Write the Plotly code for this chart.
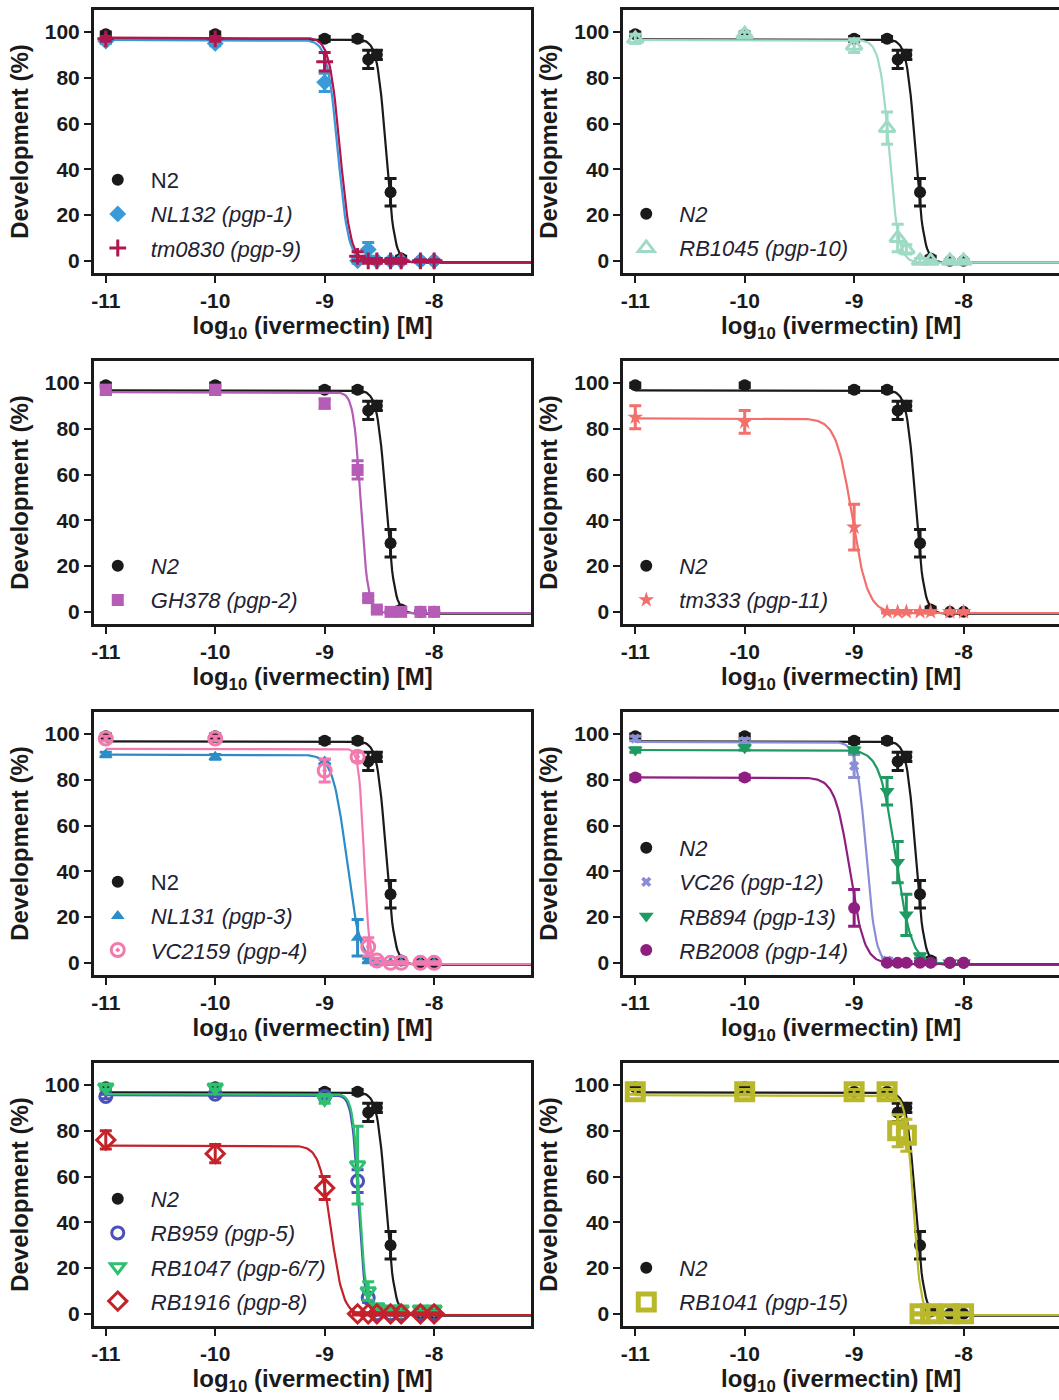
import numpy as np
import plotly.graph_objects as go

# ---------------- data ----------------
conc_molar = [1e-11, 1e-10, 1e-9, 2e-9, 2.5e-9, 3e-9, 4e-9, 5e-9, 7.5e-9, 1e-8]
log_conc = [float(np.log10(c)) for c in conc_molar]

x_tick_vals = [-11, -10, -9, -8]
x_tick_text = ["-11", "-10", "-9", "-8"]
y_tick_vals = [0, 20, 40, 60, 80, 100]

# mean development (%) and error (SEM) at each concentration
n2_mean = [99, 99, 97, 97, 88, 90, 30, 1, 0, 0]
n2_err = [1, 1, 1, 1, 4, 2, 6, 1, 0.5, 0.5]
nl132_mean = [96, 95, 78, 0, 5, 0, 0, 0, 0, 0]
nl132_err = [1, 1, 4, 1, 3, 0.5, 0.5, 0.5, 0.5, 0.5]
tm0830_mean = [97, 97, 87, 2, 0, 0, 0, 0, 0, 0]
tm0830_err = [1, 1, 4, 2, 1, 1, 1, 1, 0.5, 0.5]
rb1045_mean = [97, 99, 94, 58, 10, 5, 0, 0, 0, 0]
rb1045_err = [2, 1, 3, 7, 6, 2, 1, 0.5, 0.5, 0.5]
gh378_mean = [97, 97, 91, 62, 6, 1, 0, 0, 0, 0]
gh378_err = [2, 2, 2, 4, 1, 1, 0.5, 0.5, 0.5, 0.5]
tm333_mean = [85, 83, 37, 0, 0, 0, 0, 0, 0, 0]
tm333_err = [5, 5, 10, 0.5, 0.5, 0.5, 0.5, 0.5, 0.5, 0.5]
nl131_mean = [91, 90, 88, 11, 1, 0, 0, 0, 0, 0]
nl131_err = [1, 1, 1, 8, 1, 0.5, 0.5, 0.5, 0.5, 0.5]
vc2159_mean = [98, 98, 84, 90, 7, 1, 0, 0, 0, 0]
vc2159_err = [1, 1, 5, 2, 4, 1, 0.5, 0.5, 0.5, 0.5]
vc26_mean = [98, 97, 86, 1, 0, 0, 0, 0, 0, 0]
vc26_err = [1, 1, 5, 1, 0.5, 0.5, 0.5, 0.5, 0.5, 0.5]
rb894_mean = [93, 94, 93, 75, 44, 21, 3, 0, 0, 0]
rb894_err = [1, 1, 1, 6, 9, 9, 1, 0.5, 0.5, 0.5]
rb2008_mean = [81, 81, 24, 0, 0, 0, 0, 0, 0, 0]
rb2008_err = [1, 1, 8, 0.5, 0.5, 0.5, 0.5, 0.5, 0.5, 0.5]
rb959_mean = [95, 96, 95, 58, 7, 0, 0, 0, 0, 0]
rb959_err = [1, 1, 1, 5, 2, 0.5, 0.5, 0.5, 0.5, 0.5]
rb1047_mean = [99, 99, 94, 65, 10, 3, 2, 2, 2, 2]
rb1047_err = [1, 1, 2, 17, 4, 1, 1, 1, 1, 1]
rb1916_mean = [76, 70, 55, 0, 0, 0, 0, 0, 0, 0]
rb1916_err = [4, 4, 5, 0.5, 0.5, 0.5, 0.5, 0.5, 0.5, 0.5]
rb1041_mean = [97, 97, 97, 97, 80, 78, 0, 0, 0, 0]
rb1041_err = [1, 1, 1, 1, 7, 7, 0.5, 0.5, 0.5, 0.5]

# fitted dose-response parameters: [top, bottom, logEC50, hill slope]
n2_fit = [96.8, -0.8, -8.44, 11]
nl132_fit = [96.5, -0.5, -8.88, 9]
tm0830_fit = [97.5, -0.5, -8.86, 9]
rb1045_fit = [96.5, -0.8, -8.68, 10]
gh378_fit = [96.0, -0.5, -8.67, 13]
tm333_fit = [84.5, -0.5, -9.02, 6]
nl131_fit = [91.0, -0.5, -8.80, 7]
vc2159_fit = [93.5, -0.5, -8.64, 18]
vc26_fit = [96.5, -0.5, -8.89, 10]
rb894_fit = [93.0, -0.5, -8.62, 6]
rb2008_fit = [81.0, -0.5, -9.04, 6.5]
rb959_fit = [95.5, -0.5, -8.69, 14]
rb1047_fit = [96.0, -0.5, -8.68, 14]
rb1916_fit = [73.5, -0.5, -8.94, 8]
rb1041_fit = [95.5, -0.5, -8.46, 13]

strain_labels = {
    "n2": "N2",
    "nl132": "NL132 (pgp-1)", "tm0830": "tm0830 (pgp-9)", "rb1045": "RB1045 (pgp-10)",
    "gh378": "GH378 (pgp-2)", "tm333": "tm333 (pgp-11)", "nl131": "NL131 (pgp-3)",
    "vc2159": "VC2159 (pgp-4)", "vc26": "VC26 (pgp-12)", "rb894": "RB894 (pgp-13)",
    "rb2008": "RB2008 (pgp-14)", "rb959": "RB959 (pgp-5)", "rb1047": "RB1047 (pgp-6/7)",
    "rb1916": "RB1916 (pgp-8)", "rb1041": "RB1041 (pgp-15)",
}
strain_data = {
    "n2": (n2_mean, n2_err, n2_fit),
    "nl132": (nl132_mean, nl132_err, nl132_fit),
    "tm0830": (tm0830_mean, tm0830_err, tm0830_fit),
    "rb1045": (rb1045_mean, rb1045_err, rb1045_fit),
    "gh378": (gh378_mean, gh378_err, gh378_fit),
    "tm333": (tm333_mean, tm333_err, tm333_fit),
    "nl131": (nl131_mean, nl131_err, nl131_fit),
    "vc2159": (vc2159_mean, vc2159_err, vc2159_fit),
    "vc26": (vc26_mean, vc26_err, vc26_fit),
    "rb894": (rb894_mean, rb894_err, rb894_fit),
    "rb2008": (rb2008_mean, rb2008_err, rb2008_fit),
    "rb959": (rb959_mean, rb959_err, rb959_fit),
    "rb1047": (rb1047_mean, rb1047_err, rb1047_fit),
    "rb1916": (rb1916_mean, rb1916_err, rb1916_fit),
    "rb1041": (rb1041_mean, rb1041_err, rb1041_fit),
}

# panels: strains shown, whether N2 label is italic
panel_strains = [
    ["n2", "nl132", "tm0830"],
    ["n2", "rb1045"],
    ["n2", "gh378"],
    ["n2", "tm333"],
    ["n2", "nl131", "vc2159"],
    ["n2", "vc26", "rb894", "rb2008"],
    ["n2", "rb959", "rb1047", "rb1916"],
    ["n2", "rb1041"],
]
panel_n2_italic = [False, True, True, True, False, True, True, True]

# ---------------- styles ----------------
styles = {
    "n2": dict(color="#1a1a1a", symbol="circle", size=12, lw=0),
    "nl132": dict(color="#3a9ad8", symbol="diamond", size=13, lw=0),
    "tm0830": dict(color="#b0174f", symbol="cross-thin", size=12, lw=3),
    "rb1045": dict(color="#9fdac4", symbol="triangle-up-open", size=14, lw=3),
    "gh378": dict(color="#b45cb6", symbol="square", size=12, lw=0),
    "tm333": dict(color="#f26f6c", symbol="star", size=12, lw=0),
    "nl131": dict(color="#2a8dc8", symbol="triangle-up", size=12, lw=0),
    "vc2159": dict(color="#f27aae", symbol="circle-open-dot", size=13, lw=3),
    "vc26": dict(color="#8b8ed6", symbol="x", size=9, lw=0),
    "rb894": dict(color="#1f9a62", symbol="triangle-down", size=13, lw=0),
    "rb2008": dict(color="#8e1f80", symbol="circle", size=12, lw=0),
    "rb959": dict(color="#4a52b8", symbol="circle-open", size=12, lw=3),
    "rb1047": dict(color="#2fc06f", symbol="triangle-down-open", size=13, lw=3),
    "rb1916": dict(color="#c4222a", symbol="diamond-open", size=14, lw=3),
    "rb1041": dict(color="#b8b82a", symbol="square-open", size=16, lw=5),
}

FONT = "Liberation Sans, Arial, Helvetica, sans-serif"
TXT = "#1a1a1a"
W, H = 1059, 1400
row_tops = [10, 361, 712, 1063]
frame_h = 263
col_px = [(91, 530), (622, 1059)]
x_ranges = [[-11.11, -7.11], [-11.11, -7.128]]
y_range = [-5.3, 109.6]
legend_first_item = [(115, 180), (645, 214), (115, 566), (645, 566),
                     (115, 882), (645, 848), (115, 1199), (645, 1268)]

x_curve = np.linspace(-11, -7.0, 400)


def hill(x, p):
    top, bottom, ec50, h = p
    return bottom + (top - bottom) / (1 + 10 ** ((x - ec50) * h))


fig = go.Figure()
layout = dict(
    width=W, height=H, margin=dict(l=0, r=0, t=0, b=0),
    paper_bgcolor="white", plot_bgcolor="white",
    font=dict(family=FONT, color=TXT),
)

ITEMW = 56
LEG_FS = 22
for i, strains in enumerate(panel_strains):
    r, c = divmod(i, 2)
    sid = "" if i == 0 else str(i + 1)
    xa, ya = "x" + sid, "y" + sid
    lg = "legend" + sid
    x0, x1 = col_px[c]
    top = row_tops[r]
    bot = top + frame_h
    layout["xaxis" + sid] = dict(
        domain=[x0 / W, x1 / W], range=x_ranges[c], anchor=ya,
        showline=True, linewidth=2.5, linecolor=TXT, mirror=True,
        ticks="outside", ticklen=7, tickwidth=2, tickcolor=TXT,
        tickvals=x_tick_vals, ticktext=["<b>%s</b>" % t for t in x_tick_text],
        tickfont=dict(size=21, family=FONT, color=TXT),
        showgrid=False, zeroline=False,
        title=dict(text="<b>log<sub>10</sub> (ivermectin) [M]</b>",
                   font=dict(size=24, family=FONT, color=TXT), standoff=6),
    )
    layout["yaxis" + sid] = dict(
        domain=[1 - bot / H, 1 - top / H], range=y_range, anchor=xa,
        showline=True, linewidth=2.5, linecolor=TXT, mirror=(c == 0),
        ticks="outside", ticklen=7, tickwidth=2, tickcolor=TXT,
        tickvals=y_tick_vals, ticktext=["<b>%d</b>" % v for v in y_tick_vals],
        tickfont=dict(size=21, family=FONT, color=TXT),
        showgrid=False, zeroline=False,
        title=dict(text="<b>Development (%)</b>",
                   font=dict(size=24, family=FONT, color=TXT), standoff=10),
    )
    mx, my = legend_first_item[i]
    layout[lg] = dict(
        x=(mx - (ITEMW + 10) / 2) / W, y=1 - (my - 21) / H,
        xanchor="left", yanchor="top", xref="paper", yref="paper",
        bgcolor="rgba(0,0,0,0)", borderwidth=0,
        font=dict(size=LEG_FS, family=FONT, color="#222233"),
        itemwidth=ITEMW, tracegroupgap=2.5, traceorder="grouped",
    )
    for rank, key in enumerate(strains):
        mean, err, fit = strain_data[key]
        st = styles[key]
        label = strain_labels[key]
        if key != "n2" or panel_n2_italic[i]:
            label = "<i>%s</i>" % label
        grp = "p%d_%s" % (i, key)
        fig.add_trace(go.Scatter(
            x=x_curve, y=hill(x_curve, fit), mode="lines",
            line=dict(color=st["color"], width=2.2),
            xaxis=xa, yaxis=ya, showlegend=False, legendgroup=grp,
            hoverinfo="skip",
        ))
        mk = dict(symbol=st["symbol"], size=st["size"], color=st["color"])
        if st["lw"]:
            mk["line"] = dict(width=st["lw"], color=st["color"])
        fig.add_trace(go.Scatter(
            x=log_conc, y=mean, mode="markers", name=label,
            marker=mk,
            error_y=dict(type="data", array=err, color=st["color"],
                         thickness=3, width=6),
            xaxis=xa, yaxis=ya, legend=lg, legendgroup=grp,
            legendrank=rank + 1, cliponaxis=False,
        ))

fig.update_layout(**layout)
fig.write_html(
    "out.html",
    config={"displayModeBar": False},
    post_script="document.body.style.margin='0';document.body.style.overflow='hidden';",
)
